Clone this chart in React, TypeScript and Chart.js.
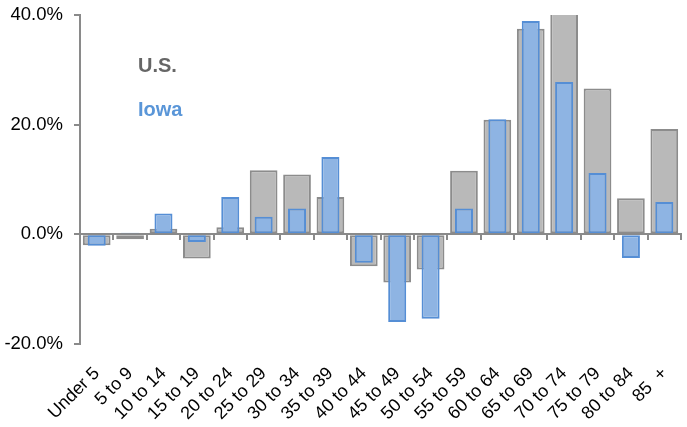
import React, { useEffect, useRef } from "react";
import { Chart, registerables } from "chart.js";

Chart.register(...registerables);

const categories = [
  "Under 5", "5 to 9", "10 to 14", "15 to 19", "20 to 24", "25 to 29",
  "30 to 34", "35 to 39", "40 to 44", "45 to 49", "50 to 54", "55 to 59",
  "60 to 64", "65 to 69", "70 to 74", "75 to 79", "80 to 84", "85  +",
];
const usValues = [
  -2.0, -0.9, 1.0, -4.4, 1.3, 11.7, 10.9, 6.8, -5.8, -8.8, -6.4, 11.6,
  20.9, 37.5, 41.5, 26.6, 6.6, 19.2,
];
const iowaValues = [
  -2.1, 0.3, 3.8, -1.4, 6.8, 3.2, 4.7, 14.1, -5.2, -16.0, -15.4, 4.7,
  21.0, 38.9, 27.8, 11.2, -4.3, 5.9,
];
const yTicks = [-20, 0, 20, 40];

const FONT = "'Liberation Sans', Arial, sans-serif";
const AXIS = "#8a8a8a";

const seriesLabels = {
  id: "seriesLabels",
  afterDraw(chart: any) {
    const { ctx, chartArea } = chart;
    ctx.save();
    ctx.font = `bold 20px ${FONT}`;
    ctx.textBaseline = "alphabetic";
    ctx.textAlign = "left";
    ctx.fillStyle = "#666666";
    ctx.fillText("U.S.", chartArea.left + 58, chartArea.top + 57);
    ctx.fillStyle = "#5a96d8";
    ctx.fillText("Iowa", chartArea.left + 58, chartArea.top + 101);
    ctx.restore();
  },
};

export default function App() {
  const ref = useRef<HTMLCanvasElement>(null);
  useEffect(() => {
    const chart = new Chart(ref.current!, {
      type: "bar",
      data: {
        labels: categories,
        datasets: [
          {
            label: "Iowa",
            data: iowaValues,
            backgroundColor: "#8eb4e3",
            borderColor: "#558ed5",
            borderWidth: 2,
            borderSkipped: false,
            barPercentage: 0.54,
            categoryPercentage: 1,
          },
          {
            label: "U.S.",
            data: usValues,
            backgroundColor: "#b9b9b9",
            borderColor: "#8c8c8c",
            borderWidth: 2,
            borderSkipped: false,
            barPercentage: 0.83,
            categoryPercentage: 1,
          },
        ],
      },
      options: {
        animation: false,
        responsive: false,
        layout: { padding: { top: 15, right: 6, left: 0, bottom: 0 } },
        plugins: { legend: { display: false }, tooltip: { enabled: false } },
        scales: {
          x: {
            stacked: true,
            position: "bottom",
            border: { display: false },
            grid: { display: false },
            ticks: {
              autoSkip: false,
              maxRotation: 45,
              minRotation: 45,
              color: "#000",
              padding: 11,
              font: { family: FONT, size: 18 },
            },
            afterFit(scale: any) {
              scale.height = 427 - 344;
              scale.paddingLeft = 0;
              scale.paddingRight = 0;
            },
          },
          x2: {
            type: "category",
            labels: categories,
            position: { y: 0 } as any,
            offset: true,
            border: { display: true, color: AXIS, width: 2 },
            grid: {
              display: true,
              offset: true,
              drawOnChartArea: false,
              drawTicks: true,
              tickLength: 5,
              color: AXIS,
              lineWidth: 2,
            },
            ticks: { display: false },
            afterFit(scale: any) {
              scale.paddingLeft = 0;
              scale.paddingRight = 0;
              scale.paddingTop = 0;
              scale.paddingBottom = 0;
            },
          },
          y: {
            min: -20,
            max: 40,
            afterBuildTicks(scale: any) {
              scale.ticks = yTicks.map((v) => ({ value: v }));
            },
            border: { display: true, color: AXIS, width: 2 },
            grid: {
              drawOnChartArea: false,
              drawTicks: true,
              tickLength: 6,
              color: AXIS,
              lineWidth: 2,
            },
            ticks: {
              color: "#000",
              padding: 11,
              font: { family: FONT, size: 18.5 },
              callback: (v: any) => Number(v).toFixed(1) + "%",
            },
            afterFit(scale: any) {
              scale.width = 80;
              scale.paddingTop = 0;
              scale.paddingBottom = 0;
            },
          },
        },
      },
      plugins: [seriesLabels],
    });
    return () => chart.destroy();
  }, []);
  return (
    <div style={{ position: "fixed", left: 0, top: 0, width: 687, height: 427, background: "#fff" }}>
      <canvas ref={ref} width={687} height={427} style={{ width: 687, height: 427 }} />
    </div>
  );
}
